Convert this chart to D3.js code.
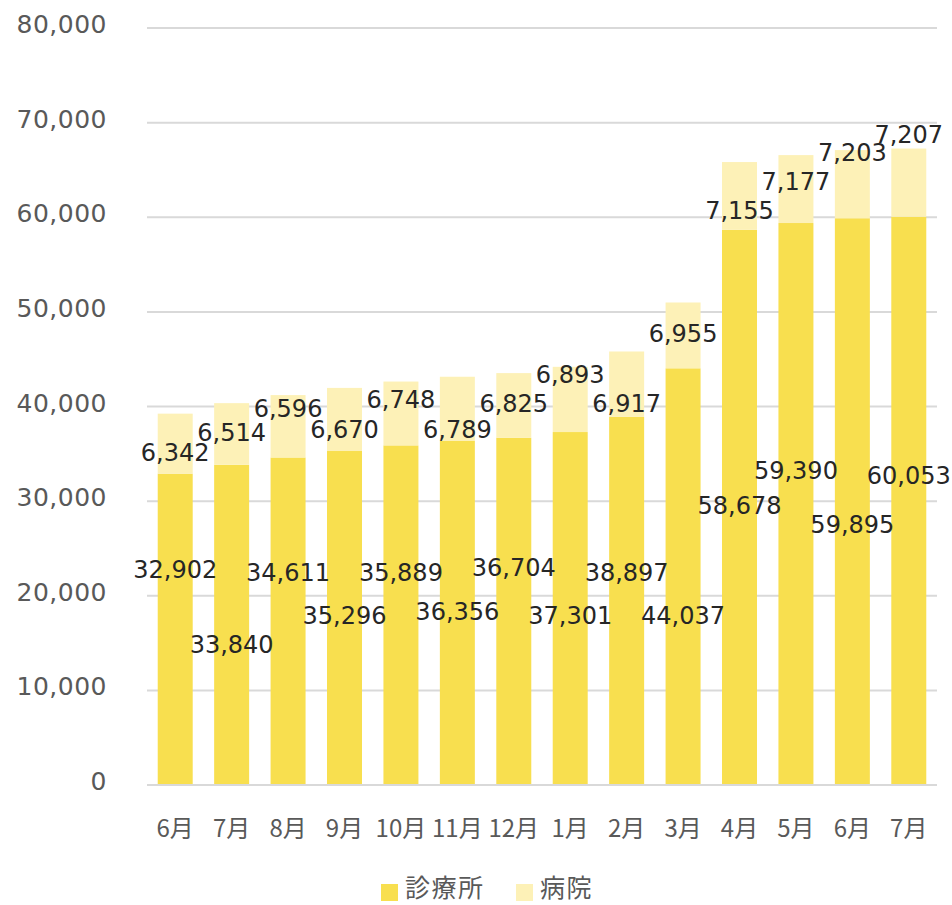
<!DOCTYPE html>
<html>
<head>
<meta charset="utf-8">
<script src="https://cdn.jsdelivr.net/npm/d3@7"></script>
<style>
  body { margin: 0; background: #fff; }
  svg { display: block; }
</style>
</head>
<body>
<div id="holder"></div>
<script>
const months = ['6月', '7月', '8月', '9月', '10月', '11月', '12月', '1月', '2月', '3月', '4月', '5月', '6月', '7月'];
const clinic = [32902, 33840, 34611, 35296, 35889, 36356, 36704, 37301, 38897, 44037, 58678, 59390, 59895, 60053];
const hospital = [6342, 6514, 6596, 6670, 6748, 6789, 6825, 6893, 6917, 6955, 7155, 7177, 7203, 7207];
const yTicks = [0, 10000, 20000, 30000, 40000, 50000, 60000, 70000, 80000];
const seriesNames = ['診療所', '病院'];

// where the data labels sit (in y units), as dragged in the original
const clinicLabelAt = [22800, 14900, 22500, 17900, 22500, 18400, 23000, 17900, 22500, 17900, 29500, 33200, 27500, 32700];
const hospitalLabelAt = [35200, 37300, 39850, 37600, 40800, 37600, 40300, 43400, 40300, 47700, 60700, 63800, 66900, 68800];

const w = 952;
const h = 905;
const plotLeft = 147, plotRight = 937, plotTop = 28, plotBottom = 785;
const colors = ['#F8DF4F', '#FDF1B7'];
const numFont = '"DejaVu Sans", Verdana, sans-serif';
const cjkFont = '"Noto Sans CJK JP", "Noto Sans", sans-serif';

const rows = months.map((m, i) => ({ i: i, clinic: clinic[i], hospital: hospital[i] }));
const stacked = d3.stack().keys(['clinic', 'hospital'])(rows);

const svg = d3.select('#holder')
    .append('svg')
    .attr('width', w)
    .attr('height', h);

const xScale = d3.scaleBand()
    .domain(d3.range(months.length))
    .range([plotLeft, plotRight])
    .paddingInner(0.38)
    .paddingOuter(0.19);

const yScale = d3.scaleLinear()
    .domain([0, 80000])
    .range([plotBottom, plotTop]);

// grid
svg.append('g')
    .selectAll('line')
    .data(yTicks)
    .enter()
    .append('line')
    .attr('x1', plotLeft)
    .attr('x2', plotRight)
    .attr('y1', d => yScale(d))
    .attr('y2', d => yScale(d))
    .attr('stroke', '#D9D9D9')
    .attr('stroke-width', 2);

// y labels
const fmt = d3.format(',');
svg.append('g')
    .selectAll('text')
    .data(yTicks)
    .enter()
    .append('text')
    .attr('x', 107)
    .attr('y', d => yScale(d) - 4)
    .attr('dy', '0.36em')
    .attr('text-anchor', 'end')
    .attr('fill', '#595959')
    .style('font-family', numFont)
    .style('font-size', '25px')
    .style('letter-spacing', '0.5px')
    .text(d => fmt(d));

// bars
svg.append('g')
    .selectAll('g')
    .data(stacked)
    .enter()
    .append('g')
    .attr('fill', (_, k) => colors[k])
    .selectAll('rect')
    .data(d => d)
    .enter()
    .append('rect')
    .attr('x', d => xScale(d.data.i))
    .attr('y', d => yScale(d[1]))
    .attr('width', xScale.bandwidth())
    .attr('height', d => yScale(d[0]) - yScale(d[1]));

// baseline on top of bars
svg.append('line')
    .attr('x1', plotLeft)
    .attr('x2', plotRight)
    .attr('y1', yScale(0))
    .attr('y2', yScale(0))
    .attr('stroke', '#D9D9D9')
    .attr('stroke-width', 2);

// x labels
svg.append('g')
    .selectAll('text')
    .data(months)
    .enter()
    .append('text')
    .attr('x', (_, i) => xScale(i) + xScale.bandwidth() / 2)
    .attr('y', 828)
    .attr('dy', '0.36em')
    .attr('text-anchor', 'middle')
    .attr('fill', '#595959')
    .style('font-family', cjkFont)
    .style('font-size', '24px')
    .text(d => d);

// data labels
const labelSets = [
    { values: clinic, at: clinicLabelAt },
    { values: hospital, at: hospitalLabelAt }
];
labelSets.forEach(set => {
    svg.append('g')
        .selectAll('text')
        .data(set.values)
        .enter()
        .append('text')
        .attr('x', (_, i) => xScale(i) + xScale.bandwidth() / 2)
        .attr('y', (_, i) => yScale(set.at[i]))
        .attr('dy', '0.36em')
        .attr('text-anchor', 'middle')
        .attr('fill', '#262626')
        .style('font-family', numFont)
        .style('font-size', '24px')
        .text(d => fmt(d));
});

// legend
const legend = svg.append('g');
const legendX = [381, 516];
seriesNames.forEach((name, k) => {
    legend.append('rect')
        .attr('x', legendX[k])
        .attr('y', 884)
        .attr('width', 17)
        .attr('height', 17)
        .attr('fill', colors[k]);
    legend.append('text')
        .attr('x', legendX[k] + 24)
        .attr('y', 888)
        .attr('dy', '0.36em')
        .attr('fill', '#595959')
        .style('font-family', cjkFont)
        .style('font-size', '25px')
        .style('letter-spacing', '1.5px')
        .text(name);
});
</script>
</body>
</html>
